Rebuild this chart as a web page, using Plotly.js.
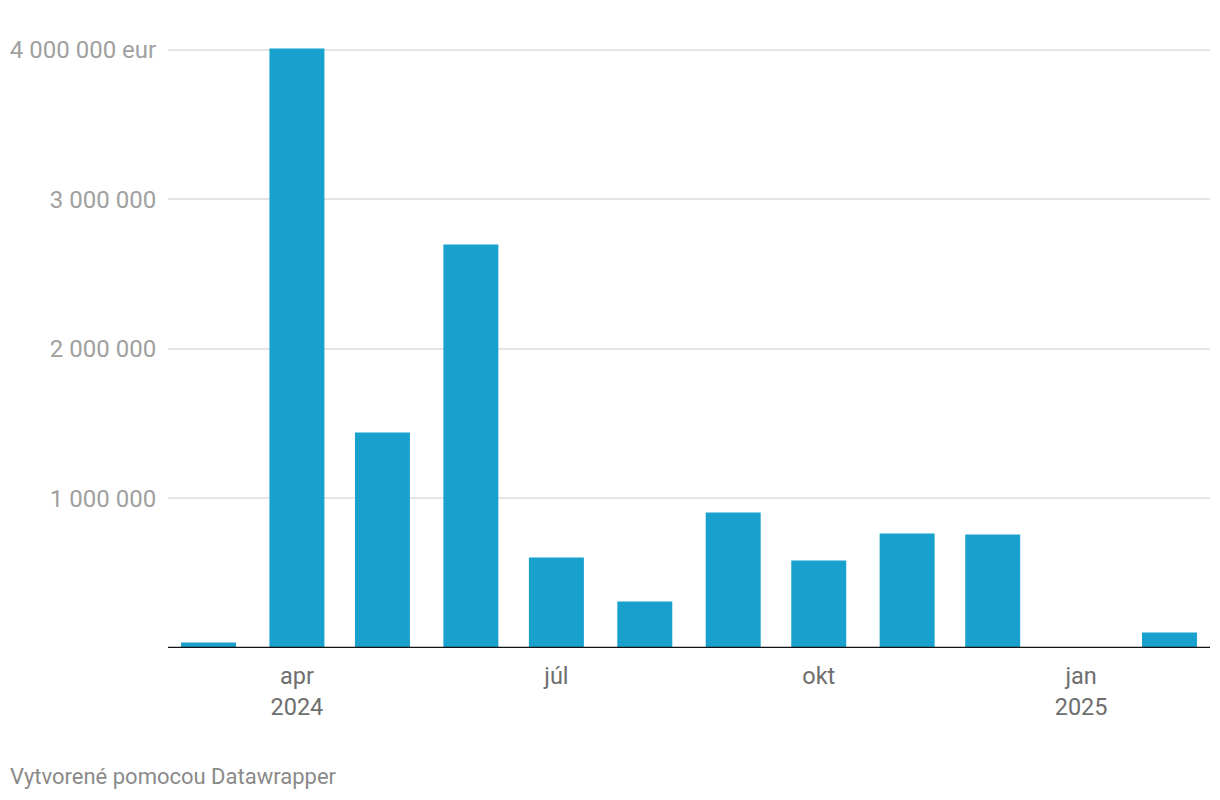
<!DOCTYPE html>
<html>
<head>
<meta charset="utf-8">
<script src="https://cdn.plot.ly/plotly-3.0.1.min.js"></script>
<style>
  html, body { margin: 0; padding: 0; background: #ffffff; }
  #chart { width: 1220px; height: 800px; }
</style>
</head>
<body>
<div id="chart"></div>
<script>
// Data (monthly)
const months = ['2024-03-01','2024-04-01','2024-05-01','2024-06-01','2024-07-01','2024-08-01',
                '2024-09-01','2024-10-01','2024-11-01','2024-12-01','2025-01-01','2025-02-01'];
const values = [37000, 4010000, 1441000, 2699000, 605000, 311000,
                906000, 585000, 766000, 759000, 0, 104000];
const xTickVals = ['2024-04-01','2024-07-01','2024-10-01','2025-01-01'];
const xTickText = ['apr<br>2024','júl','okt','jan<br>2025'];
const yTickVals = [1000000, 2000000, 3000000, 4000000];
const yTickText = ['1 000 000','2 000 000','3 000 000','4 000 000 eur'];
const footer = 'Vytvorené pomocou Datawrapper';

const W = 1220, H = 800;
const m = {l: 168, r: 10, t: 20, b: 152};
const plotW = W - m.l - m.r;
const plotH = H - m.t - m.b;

const trace = {
  type: 'bar',
  x: months,
  y: values,
  width: 19.28 * 86400000,
  marker: {color: '#18a1cd', line: {width: 0}},
  hoverinfo: 'x+y'
};

const layout = {
  width: W, height: H,
  margin: m,
  paper_bgcolor: '#ffffff',
  plot_bgcolor: '#ffffff',
  showlegend: false,
  font: {family: 'Roboto, sans-serif'},
  xaxis: {
    type: 'date',
    range: ['2024-02-15 19:00', '2025-02-15 05:00'],
    tickvals: xTickVals,
    ticktext: xTickText,
    showgrid: false,
    zeroline: false,
    showline: false,
    ticks: 'outside',
    ticklen: 7,
    tickcolor: 'rgba(0,0,0,0)',
    tickfont: {family: 'Roboto, sans-serif', size: 23.5, color: '#6e6e6e'},
    fixedrange: true
  },
  yaxis: {
    range: [0, 4200000],
    tickvals: yTickVals,
    ticktext: yTickText,
    showgrid: true,
    gridcolor: '#e5e5e5',
    gridwidth: 2,
    zeroline: false,
    showline: false,
    ticks: 'outside',
    ticklen: 6,
    tickcolor: 'rgba(0,0,0,0)',
    tickfont: {family: 'Roboto, sans-serif', size: 24, color: '#a0a0a0'},
    fixedrange: true
  },
  shapes: [{
    type: 'line', xref: 'paper', yref: 'y',
    x0: 0, x1: 1, y0: 0, y1: 0,
    line: {color: '#141414', width: 2.5},
    layer: 'above'
  }],
  annotations: [{
    text: footer,
    xref: 'paper', yref: 'paper',
    x: (8 - m.l) / plotW,
    y: (H - m.b - 776) / plotH,
    xanchor: 'left', yanchor: 'middle',
    showarrow: false,
    font: {family: 'Roboto, sans-serif', size: 22, color: '#8a8a8a'}
  }]
};

Plotly.newPlot('chart', [trace], layout, {displayModeBar: false, staticPlot: true});
</script>
</body>
</html>
